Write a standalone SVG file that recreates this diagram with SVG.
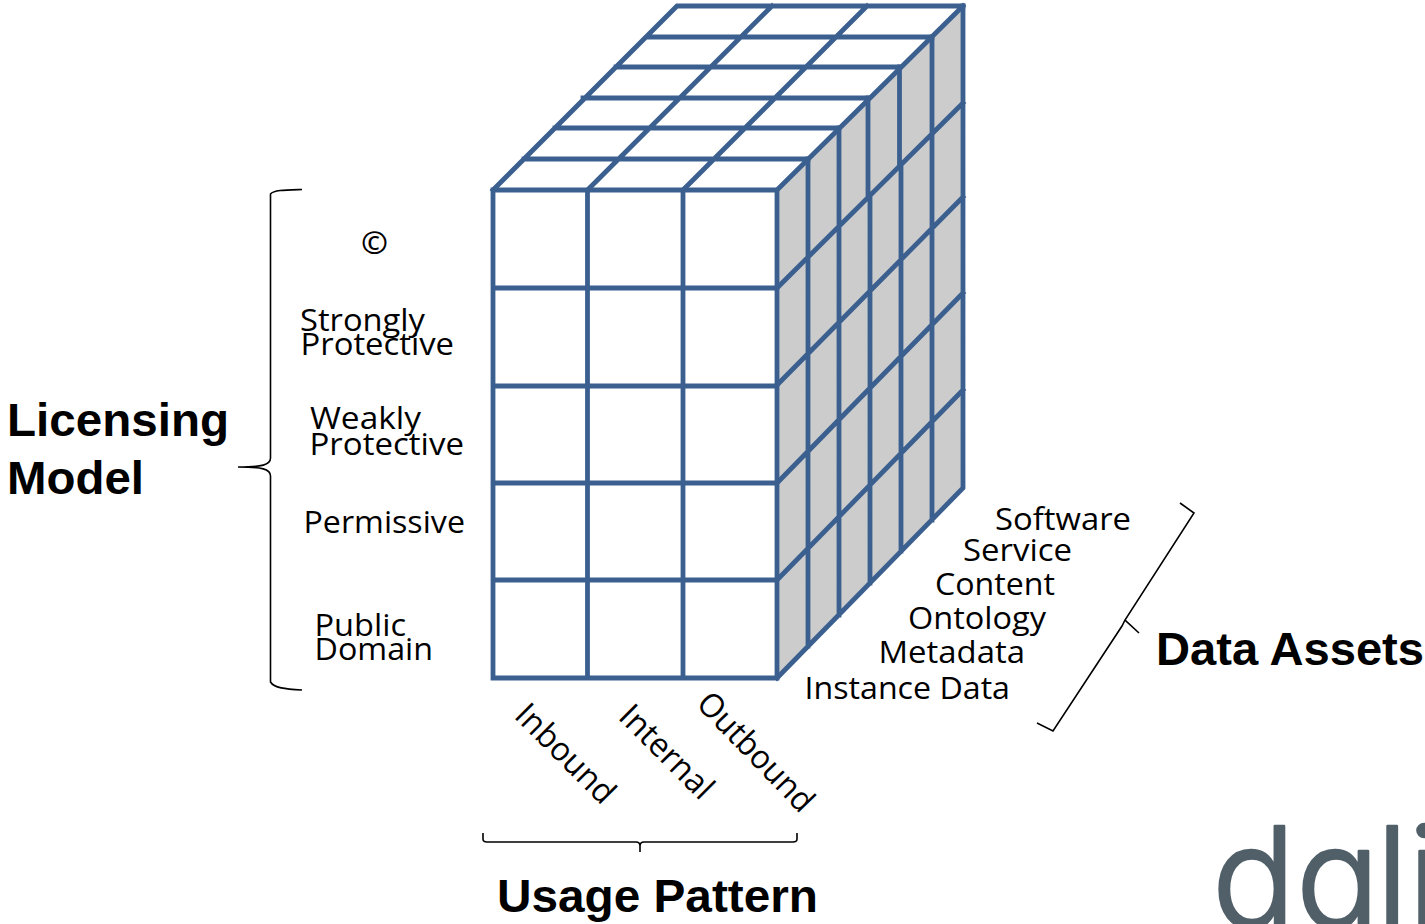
<svg xmlns="http://www.w3.org/2000/svg" width="1425" height="924" viewBox="0 0 1425 924">
<style>
.g{fill:none;stroke:#3b608f;stroke-width:4.8;stroke-linecap:square}
.b{fill:none;stroke:#000;stroke-width:1.6}
.t{font-family:"Open Sans","Liberation Sans",sans-serif;font-size:31px;fill:#000}
.r{font-size:33px}
.h{font-family:"Liberation Sans",Arial,sans-serif;font-size:47px;font-weight:700;fill:#000}
</style>
<rect width="1425" height="924" fill="#fff"/>
<g id="cube">
<polygon points="777,190 963,6 963,488 777,678" fill="#ccc"/>
<path class="g" d="M493,190H777V678H493Z M587.500,190V678 M683,190V678 M493,288H777 M493,386H777 M493,483H777 M493,580H777"/>
<path class="g" d="M493,190L677,6H963 M587.500,190L772,6 M683,190L867,6 M777,190L963,6 M524,159H808 M555,128H839 M583,98H868 M616,67H900 M648,37H932"/>
<path class="g" d="M963,6V488L777,678 M808,159V646 M839,128V615 M868,98V194 M870,194V583 M899.500,67V163 M901,163V551 M932,37V520 M777,288L963,103 M777,385L963,197 M777,483L963,293 M777,580L963,390"/>
</g>
<g id="licensing-model">
<path class="b" d="M302,189.500C285,190 274,190 270.500,194V458C270.500,465 262,467 238,467C262,467 270.500,469 270.500,476V682C274,688 285,689 302,690"/>
<text class="h" x="7" y="436" textLength="222" lengthAdjust="spacingAndGlyphs">Licensing</text>
<text class="h" x="7" y="494" textLength="137" lengthAdjust="spacingAndGlyphs">Model</text>
<text class="t" x="361" y="254" textLength="27" lengthAdjust="spacingAndGlyphs" font-weight="600">©</text>
<text class="t" x="300" y="331" textLength="125" lengthAdjust="spacingAndGlyphs">Strongly</text>
<text class="t" x="300.500" y="355" textLength="153.500" lengthAdjust="spacingAndGlyphs">Protective</text>
<text class="t" x="310" y="429" textLength="111" lengthAdjust="spacingAndGlyphs">Weakly</text>
<text class="t" x="309.500" y="455" textLength="154.500" lengthAdjust="spacingAndGlyphs">Protective</text>
<text class="t" x="303.500" y="533" textLength="161.500" lengthAdjust="spacingAndGlyphs">Permissive</text>
<text class="t" x="314.500" y="636" textLength="91.500" lengthAdjust="spacingAndGlyphs">Public</text>
<text class="t" x="314.500" y="660" textLength="118.500" lengthAdjust="spacingAndGlyphs">Domain</text>
</g>
<g id="data-assets">
<path class="b" d="M1180,503L1194,513L1125,620L1139,633M1125,620L1122,626L1053,731L1037,723"/>
<text class="h" x="1156" y="665" textLength="268" lengthAdjust="spacingAndGlyphs">Data Assets</text>
<text class="t" x="995" y="530" textLength="136" lengthAdjust="spacingAndGlyphs">Software</text>
<text class="t" x="963" y="561" textLength="109" lengthAdjust="spacingAndGlyphs">Service</text>
<text class="t" x="935" y="595" textLength="120" lengthAdjust="spacingAndGlyphs">Content</text>
<text class="t" x="908" y="629" textLength="138" lengthAdjust="spacingAndGlyphs">Ontology</text>
<text class="t" x="878.500" y="663" textLength="146.500" lengthAdjust="spacingAndGlyphs">Metadata</text>
<text class="t" x="804.500" y="699" textLength="205.500" lengthAdjust="spacingAndGlyphs">Instance Data</text>
</g>
<g id="usage-pattern">
<path class="b" d="M483,833V839Q483,842 487,842H636Q640,842 640,846V852M640,846Q640,842 644,842H793Q797,842 797,839V833"/>
<text class="h" x="497" y="912" textLength="321" lengthAdjust="spacingAndGlyphs">Usage Pattern</text>
<text class="t r" transform="translate(513 717) rotate(45)" textLength="126" lengthAdjust="spacingAndGlyphs">Inbound</text>
<text class="t r" transform="translate(617 718) rotate(45)" textLength="118" lengthAdjust="spacingAndGlyphs">Internal</text>
<text class="t r" transform="translate(695 705) rotate(46)" textLength="152" lengthAdjust="spacingAndGlyphs">Outbound</text>
</g>
<g id="logo">
<text y="927" x="1212 1296 1376 1408" font-family="Inter,'Noto Sans',sans-serif" font-size="139" font-weight="300" fill="#515f69" stroke="#515f69" stroke-width="2.600" stroke-linejoin="round" style="font-feature-settings:'cv11'">dali</text>
</g>
</svg>
